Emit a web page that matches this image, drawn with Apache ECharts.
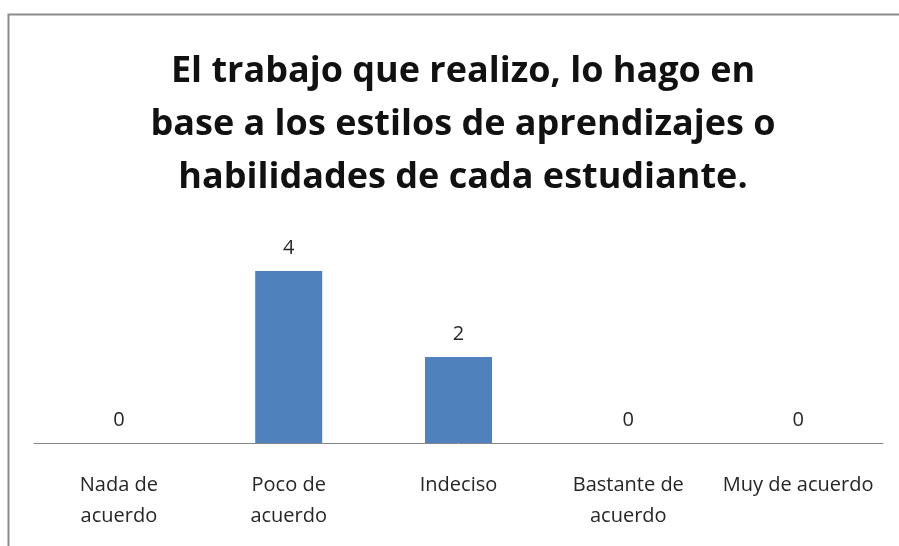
<!DOCTYPE html>
<html>
<head>
<meta charset="utf-8">
<script src="https://cdn.jsdelivr.net/npm/echarts@6/dist/echarts.min.js"></script>
<style>
  html, body { margin: 0; padding: 0; background: #fff; }
  #main { width: 899px; height: 546px; }
</style>
</head>
<body>
<div id="main"></div>
<script>
  // datos del gráfico
  var categorias = ['Nada de\nacuerdo', 'Poco de\nacuerdo', 'Indeciso', 'Bastante de\nacuerdo', 'Muy de acuerdo'];
  var valores = [0, 4, 2, 0, 0];
  var titulo = 'El trabajo que realizo, lo hago en\nbase a los estilos de aprendizajes o\nhabilidades de cada estudiante.';

  var myChart = echarts.init(document.getElementById('main'));

  var option = {
    animation: false,
    title: {
      text: titulo,
      left: 458,
      top: 40,
      textAlign: 'center',
      textStyle: {
        fontFamily: 'Open Sans',
        fontWeight: 'bold',
        fontSize: 36,
        lineHeight: 53,
        color: '#111'
      }
    },
    graphic: [
      {
        type: 'rect',
        shape: { x: 8.5, y: 14.5, width: 1000, height: 1000 },
        style: { fill: 'none', stroke: '#8c8c8c', lineWidth: 2 },
        silent: true
      }
    ],
    grid: {
      left: 34,
      right: 16,
      top: 228,
      bottom: 103,
      containLabel: false
    },
    xAxis: {
      type: 'category',
      data: categorias,
      axisLine: { lineStyle: { color: '#868686', width: 1 } },
      axisTick: { show: false },
      axisLabel: {
        interval: 0,
        margin: 27,
        fontFamily: 'Open Sans',
        fontSize: 20,
        lineHeight: 31,
        color: '#262626'
      }
    },
    yAxis: {
      type: 'value',
      min: 0,
      max: 5,
      show: false,
      splitLine: { show: false }
    },
    series: [
      {
        type: 'bar',
        data: valores,
        barWidth: 67,
        itemStyle: { color: '#4F81BD' },
        label: {
          show: true,
          position: 'top',
          distance: 13,
          fontFamily: 'Open Sans',
          fontSize: 20,
          color: '#262626'
        }
      }
    ]
  };

  myChart.setOption(option);
</script>
</body>
</html>
